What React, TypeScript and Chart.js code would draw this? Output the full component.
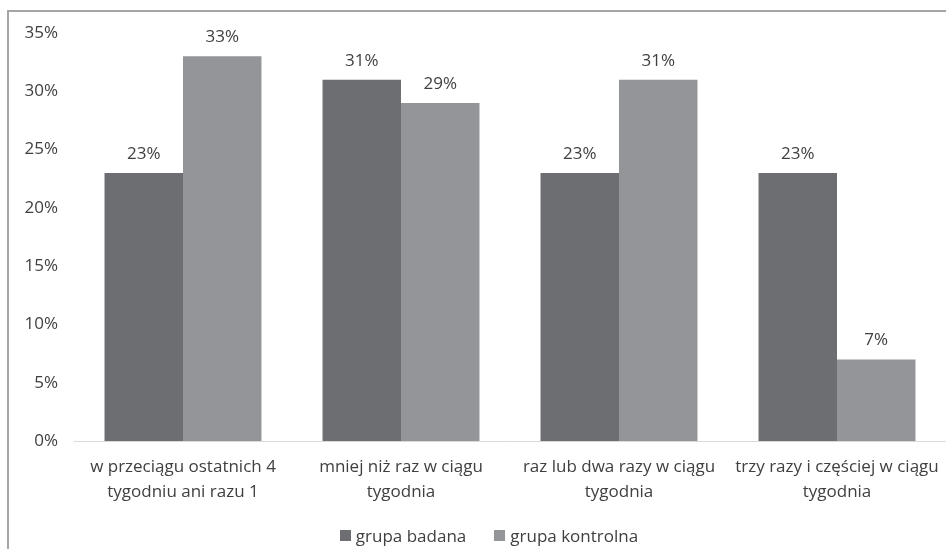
import React, { useEffect, useRef } from "react";
import { Chart, registerables } from "chart.js";

Chart.register(...registerables);

const categories: string[][] = [
  ["w przeciągu ostatnich 4", "tygodniu ani razu 1"],
  ["mniej niż raz w ciągu", "tygodnia"],
  ["raz lub dwa razy w ciągu", "tygodnia"],
  ["trzy razy i częściej w ciągu", "tygodnia"],
];
const grupaBadana = [23, 31, 23, 23];
const grupaKontrolna = [33, 29, 31, 7];
const seriesNames = ["grupa badana", "grupa kontrolna"];
const seriesColors = ["#6d6e71", "#939598"];
const yTicks = [0, 5, 10, 15, 20, 25, 30, 35];

const FONT = "'Open Sans', 'Noto Sans', sans-serif";
const TEXT = "#404040";

const labelPlugin = {
  id: "barLabels",
  afterDatasetsDraw(chart: any) {
    const ctx = chart.ctx;
    ctx.save();
    ctx.font = `17px ${FONT}`;
    ctx.fillStyle = TEXT;
    ctx.textAlign = "center";
    ctx.textBaseline = "alphabetic";
    chart.data.datasets.forEach((ds: any, di: number) => {
      const meta = chart.getDatasetMeta(di);
      meta.data.forEach((bar: any, i: number) => {
        ctx.fillText(`${ds.data[i]}%`, bar.x, bar.y - 14);
      });
    });
    ctx.restore();
  },
};

export default function App() {
  const ref = useRef<HTMLCanvasElement | null>(null);
  useEffect(() => {
    if (!ref.current) return;
    const chart = new Chart(ref.current, {
      type: "bar",
      data: {
        labels: categories,
        datasets: [
          { label: seriesNames[0], data: grupaBadana, backgroundColor: seriesColors[0] },
          { label: seriesNames[1], data: grupaKontrolna, backgroundColor: seriesColors[1] },
        ],
      },
      options: {
        animation: false,
        responsive: false,
        maintainAspectRatio: false,
        layout: { padding: { top: 33, left: 11, right: 0, bottom: 0 } },
        datasets: { bar: { categoryPercentage: 0.72, barPercentage: 1 } },
        scales: {
          x: {
            afterFit: (scale: any) => {
              scale.height = 108;
              scale.paddingLeft = 0;
              scale.paddingRight = 0;
            },
            grid: { display: false, drawTicks: false },
            border: { display: true, color: "#d9d9d9", width: 1 },
            ticks: {
              color: TEXT,
              font: { family: FONT, size: 17, lineHeight: 1.45 },
              padding: 14,
              maxRotation: 0,
              autoSkip: false,
            },
          },
          y: {
            min: 0,
            max: 35,
            afterBuildTicks: (scale: any) => {
              scale.ticks = yTicks.map((v) => ({ value: v }));
            },
            afterFit: (scale: any) => {
              scale.width = 63;
            },
            grid: { display: false, drawTicks: false },
            border: { display: false },
            ticks: {
              color: TEXT,
              font: { family: FONT, size: 17 },
              padding: 16,
              callback: (v: any) => `${v}%`,
            },
          },
        },
        plugins: {
          legend: { display: false },
          tooltip: { enabled: false },
        },
      },
      plugins: [labelPlugin],
    });
    return () => chart.destroy();
  }, []);

  return (
    <div style={{ position: "absolute", left: 0, top: 0, width: 946, height: 549, background: "#fff", overflow: "hidden" }}>
      <div
        style={{
          position: "absolute",
          left: 7,
          top: 10,
          width: 960,
          height: 560,
          borderLeft: "2px solid #a6a6a6",
          borderTop: "2px solid #a6a6a6",
        }}
      />
      <canvas ref={ref} width={946} height={549} style={{ position: "absolute", left: 0, top: 0 }} />
      <div
        style={{
          position: "absolute",
          left: 16,
          width: 946,
          top: 522,
          height: 26,
          display: "flex",
          justifyContent: "center",
          alignItems: "center",
          fontFamily: FONT,
          fontSize: 17,
          color: TEXT,
          gap: 28,
        }}
      >
        {seriesNames.map((name, i) => (
          <div key={name} style={{ display: "flex", alignItems: "center", gap: 5 }}>
            <span style={{ display: "inline-block", width: 11, height: 11, background: seriesColors[i] }} />
            <span>{name}</span>
          </div>
        ))}
      </div>
    </div>
  );
}
